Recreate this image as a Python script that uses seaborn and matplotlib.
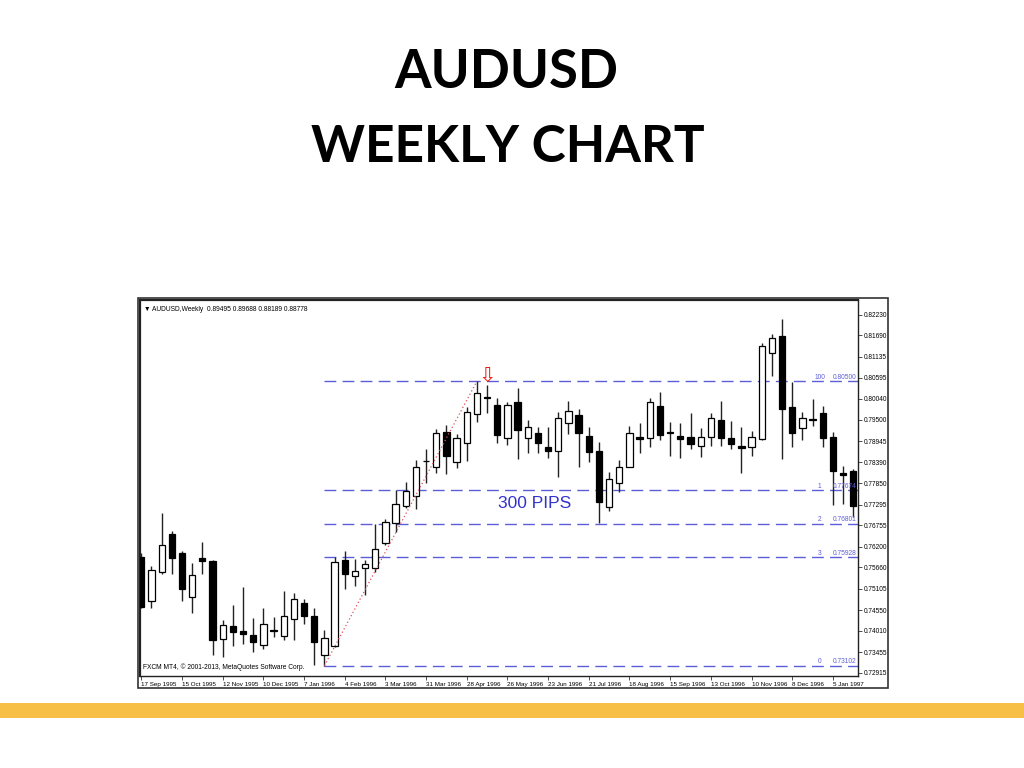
import numpy as np
import pandas as pd
import matplotlib
matplotlib.use('Agg')
from matplotlib import pyplot as plt
from matplotlib.patches import Rectangle
import matplotlib.transforms as mtransforms
import seaborn as sns

# weekly AUDUSD candles, first one = week of 17 Sep 1995
opens = [0.75930, 0.74794, 0.75532, 0.76520, 0.76026, 0.74882, 0.75904, 0.75826, 0.73806, 0.74136,
         0.74006, 0.73910, 0.73642, 0.74006, 0.73876, 0.74310, 0.74734, 0.74396, 0.73382, 0.73624,
         0.75852, 0.75436, 0.75652, 0.75636, 0.76302, 0.76827, 0.77256, 0.77524, 0.78426, 0.78278,
         0.79172, 0.78400, 0.78886, 0.79640, 0.80090, 0.79882, 0.79016, 0.79960, 0.79037, 0.79167,
         0.78782, 0.78686, 0.79422, 0.79614, 0.79068, 0.78686, 0.77243, 0.77846, 0.78278, 0.79058,
         0.79016, 0.79864, 0.79154, 0.79076, 0.79058, 0.78816, 0.79042, 0.79492, 0.79016, 0.78816,
         0.78782, 0.78990, 0.81247, 0.81676, 0.79838, 0.79284, 0.79505, 0.79666, 0.79058, 0.78127,
         0.78166]
highs = [0.76034, 0.75696, 0.77066, 0.76606, 0.76086, 0.75782, 0.76312, 0.75852, 0.74292, 0.74682,
         0.75142, 0.74336, 0.74596, 0.74362, 0.75054, 0.74986, 0.74838, 0.74596, 0.74032, 0.75922,
         0.76094, 0.75878, 0.75844, 0.76780, 0.76910, 0.77672, 0.77880, 0.78452, 0.78738, 0.79250,
         0.79362, 0.79120, 0.79822, 0.80500, 0.80402, 0.80056, 0.79968, 0.80316, 0.79492, 0.79318,
         0.79318, 0.79708, 0.79994, 0.79778, 0.79302, 0.78920, 0.78140, 0.78452, 0.79344, 0.79406,
         0.80056, 0.80228, 0.79448, 0.79406, 0.79666, 0.79276, 0.79666, 0.79994, 0.79466, 0.79318,
         0.79214, 0.81486, 0.81728, 0.82118, 0.80488, 0.79708, 0.80030, 0.79864, 0.79188, 0.78296,
         0.78210]
lows = [0.74604, 0.74596, 0.75480, 0.75480, 0.74794, 0.74466, 0.75480, 0.73382, 0.73322, 0.73624,
        0.73668, 0.73452, 0.73538, 0.73858, 0.73772, 0.73772, 0.74188, 0.73120, 0.73102, 0.73598,
        0.75090, 0.75184, 0.74942, 0.75548, 0.76242, 0.76588, 0.77204, 0.77170, 0.77867, 0.78106,
        0.78080, 0.78252, 0.78418, 0.79448, 0.79666, 0.78894, 0.78842, 0.78470, 0.78626, 0.78634,
        0.78496, 0.78018, 0.79128, 0.78278, 0.78408, 0.76810, 0.77134, 0.77628, 0.78262, 0.78626,
        0.78798, 0.78972, 0.78564, 0.78496, 0.78730, 0.78522, 0.78816, 0.78816, 0.78730, 0.78106,
        0.78564, 0.78972, 0.80644, 0.78470, 0.78782, 0.78972, 0.79336, 0.78798, 0.77282, 0.77308,
        0.76978]
closes = [0.74630, 0.75592, 0.76234, 0.75912, 0.75090, 0.75470, 0.75834, 0.73772, 0.74162, 0.73980,
          0.73928, 0.73720, 0.74188, 0.74024, 0.74396, 0.74838, 0.74396, 0.73720, 0.73816, 0.75792,
          0.75496, 0.75566, 0.75740, 0.76130, 0.76848, 0.77300, 0.77659, 0.78270, 0.78439, 0.79146,
          0.78564, 0.79016, 0.79708, 0.80186, 0.80064, 0.79102, 0.79874, 0.79232, 0.79310, 0.78907,
          0.78686, 0.79536, 0.79734, 0.79146, 0.78652, 0.77360, 0.77958, 0.78278, 0.79146, 0.79006,
          0.79968, 0.79102, 0.79180, 0.79006, 0.78868, 0.79042, 0.79552, 0.79016, 0.78868, 0.78772,
          0.79042, 0.81424, 0.81616, 0.79770, 0.79162, 0.79536, 0.79518, 0.79032, 0.78166, 0.78075,
          0.77269]

date_labels = ['17 Sep 1995', '15 Oct 1995', '12 Nov 1995', '10 Dec 1995', '7 Jan 1996', '4 Feb 1996',
               '3 Mar 1996', '31 Mar 1996', '28 Apr 1996', '26 May 1996', '23 Jun 1996', '21 Jul 1996',
               '18 Aug 1996', '15 Sep 1996', '13 Oct 1996', '10 Nov 1996', '8 Dec 1996', '5 Jan 1997']
price_ticks = [0.82230, 0.81690, 0.81135, 0.80595, 0.80040, 0.79500, 0.78945, 0.78390, 0.77850,
               0.77295, 0.76755, 0.76200, 0.75660, 0.75105, 0.74550, 0.74010, 0.73455, 0.72915]

fib_levels = [0.80500, 0.77674, 0.76801, 0.75928, 0.73102]
fib_names = ['100', '1', '2', '3', '0']
fib_texts = ['0.80500', '0.77674', '0.76801', '0.75928', '0.73102']
swing_low_idx = 18
swing_high_idx = 33

df = pd.DataFrame({'open': opens, 'high': highs, 'low': lows, 'close': closes})
df['idx'] = np.arange(len(df))
df['up'] = df['close'] >= df['open']

sns.set_theme(style='white')
plt.rcParams['font.family'] = ['Liberation Sans', 'DejaVu Sans']
plt.rcParams['text.color'] = 'black'
plt.rcParams['xtick.color'] = 'black'
plt.rcParams['ytick.color'] = 'black'

fig = plt.figure(figsize=(10.24, 7.68), dpi=100)

# titles
fig.text(0.4945, 1 - 88 / 768, 'AUDUSD', ha='center', va='baseline', color='black',
         fontsize=38, fontweight='bold', family=['Lato', 'DejaVu Sans'])
fig.text(0.4955, 1 - 162 / 768, 'WEEKLY CHART', ha='center', va='baseline', color='black',
         fontsize=37, fontweight='bold', family=['Lato', 'DejaVu Sans'])

# orange band at the bottom
fig.add_artist(Rectangle((0, 1 - 718 / 768), 1, 15 / 768, transform=fig.transFigure,
                         facecolor='#F8BF47', edgecolor='none'))

ax = fig.add_axes([140 / 1024, 1 - 676 / 768, 718 / 1024, 376 / 768])
ax.set_facecolor('white')

# wicks + bodies
ax.vlines(df['idx'], df['low'], df['high'], color='#222222', lw=1, zorder=2)
body_bottom = np.minimum(df['open'], df['close'])
body_h = np.maximum(np.abs(df['close'] - df['open']), 0.00003)
ax.bar(df['idx'], body_h, bottom=body_bottom, width=0.62,
       color=np.where(df['up'], 'white', 'black'), edgecolor='black', linewidth=0.9, zorder=3)

# fibonacci levels
blue = '#5d5dd8'
for lvl, name, txt in zip(fib_levels, fib_names, fib_texts):
    ax.hlines(lvl, swing_low_idx, 70.5, color=blue, lw=1, linestyles=(0, (8.5, 4.5)), zorder=1)
    ax.text(66.7, lvl + 0.0001, name, fontsize=4.8, color=blue, ha='center', va='bottom')
    ax.text(0.998, lvl + 0.0001, txt, fontsize=4.8, color=blue, ha='right', va='bottom',
            transform=mtransforms.blended_transform_factory(ax.transAxes, ax.transData))

# swing line
swing = pd.DataFrame({'x': [swing_low_idx, swing_high_idx],
                      'y': [lows[swing_low_idx], highs[swing_high_idx]]})
sns.lineplot(data=swing, x='x', y='y', ax=ax, color='#e0505a', lw=0.9, linestyle=(0, (1, 2)), zorder=4)

# arrow mark over the top
ax.text(34, highs[swing_high_idx] - 0.0001, '\u21e9', color='#e8201a', fontsize=15,
        ha='center', va='baseline', zorder=5, family=['DejaVu Sans'])

ax.text(38.7, 0.7733, '300 PIPS', color='#3232cc', fontsize=12.5, ha='center', va='center')

ax.text(0.006, 0.985, '\u25bc AUDUSD,Weekly  0.89495 0.89688 0.88189 0.88778', transform=ax.transAxes,
        fontsize=4.8, ha='left', va='top')
ax.text(0.004, 0.012, 'FXCM MT4, \u00a9 2001-2013, MetaQuotes Software Corp.', transform=ax.transAxes,
        fontsize=4.8, ha='left', va='bottom')

ax.set_xlim(-0.13, 70.47)
ax.set_ylim(0.72836, 0.82612)
ax.set_xlabel('')
ax.set_ylabel('')

ax.yaxis.tick_right()
ax.set_yticks(price_ticks)
ax.set_yticklabels([f'{p:.5f}' for p in price_ticks])
ax.set_xticks(range(0, 69, 4))
ax.set_xticklabels(date_labels)
for lab in ax.get_xticklabels():
    lab.set_horizontalalignment('left')
ax.tick_params(axis='both', which='both', labelsize=4.5, length=3, width=0.6, pad=1.5,
               color='#333333', labelcolor='black')
ax.tick_params(axis='y', right=True, left=False, labelsize=4.7)
ax.tick_params(axis='x', bottom=True)

for side, sp in ax.spines.items():
    sp.set_color('#222222')
    sp.set_linewidth(1.0)
ax.spines['left'].set_linewidth(1.6)
ax.spines['top'].set_linewidth(1.6)

# outer frame of the screenshot
fig.add_artist(Rectangle((138 / 1024, 1 - 688 / 768), 750 / 1024, 390 / 768, transform=fig.transFigure,
                         fill=False, edgecolor='#333333', lw=1.2))

fig.savefig('out.png', dpi=100)
